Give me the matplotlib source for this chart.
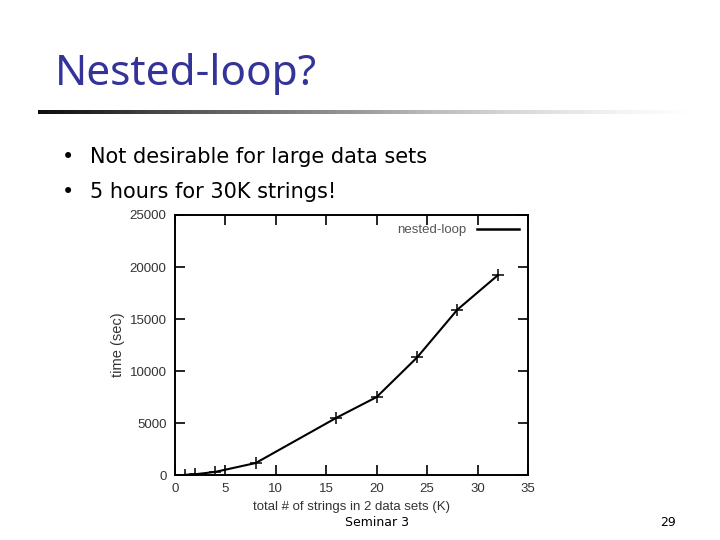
import numpy as np
import matplotlib.pyplot as plt
from matplotlib import font_manager

# data
strings_k = [1, 2, 4, 8, 16, 20, 24, 28, 32]
time_sec = [20, 70, 300, 1150, 5500, 7500, 11300, 15900, 19200]

title_text = 'Nested-loop?'
bullets = ['Not desirable for large data sets', '5 hours for 30K strings!']

names = {f.name for f in font_manager.fontManager.ttflist}
title_font = 'Liberation Sans Narrow' if 'Liberation Sans Narrow' in names else 'Noto Sans'

fig = plt.figure(figsize=(7.2, 5.4), dpi=100)
fig.patch.set_facecolor('white')

# slide title
fig.text(55 / 720, 1 - 74 / 540, title_text, fontsize=30.5, color='#333399',
         family=title_font, va='center', ha='left')

# gradient rule under the title
rule = fig.add_axes([38 / 720, 1 - 114 / 540, 655 / 720, 4 / 540])
grad = np.linspace(0, 1, 256).reshape(1, -1)
rule.imshow(grad, aspect='auto', cmap='Greys_r', vmin=-0.05, vmax=1.0)
rule.axis('off')

# bullet points
for i, b in enumerate(bullets):
    y = 1 - (157 + 35 * i) / 540
    fig.text(62 / 720, y, '\u2022', fontsize=15, va='center', family='DejaVu Sans')
    fig.text(90 / 720, y, b, fontsize=15, va='center', family='DejaVu Sans')

# the plot itself
ax = fig.add_axes([175 / 720, 1 - 475 / 540, 353 / 720, 260 / 540])
ax.plot(strings_k, time_sec, color='black', lw=1.5, marker='+', ms=8,
        mew=1.1, label='nested-loop')
ax.set_xlim(0, 35)
ax.set_ylim(0, 25000)
ax.set_xticks(range(0, 36, 5))
ax.set_yticks(range(0, 25001, 5000))
ax.tick_params(direction='in', length=7, width=1.2, top=True, right=True,
               labelsize=9.5, labelcolor='#333333', pad=6)
for s in ax.spines.values():
    s.set_linewidth(1.4)
for lab in ax.get_xticklabels() + ax.get_yticklabels():
    lab.set_family('Liberation Sans')
ax.set_xlabel('total # of strings in 2 data sets (K)', fontsize=9.5,
              family='Liberation Sans', color='#333333', labelpad=4)
ax.set_ylabel('time (sec)', fontsize=10.5, family='Liberation Sans',
              color='#333333', labelpad=3)
leg = ax.legend(loc='upper right', frameon=False, markerfirst=False,
                handlelength=3.2, prop={'family': 'Liberation Sans', 'size': 9.5},
                borderaxespad=0.3)
for t in leg.get_texts():
    t.set_color('#555555')
for h in leg.legend_handles:
    h.set_marker('')
    h.set_linewidth(1.8)

# footer
fig.text(377 / 720, 1 - 523 / 540, 'Seminar 3', fontsize=9, ha='center',
         va='center', family='DejaVu Sans')
fig.text(668 / 720, 1 - 523 / 540, '29', fontsize=9, ha='center',
         va='center', family='DejaVu Sans')

fig.savefig('out.png', dpi=100)
